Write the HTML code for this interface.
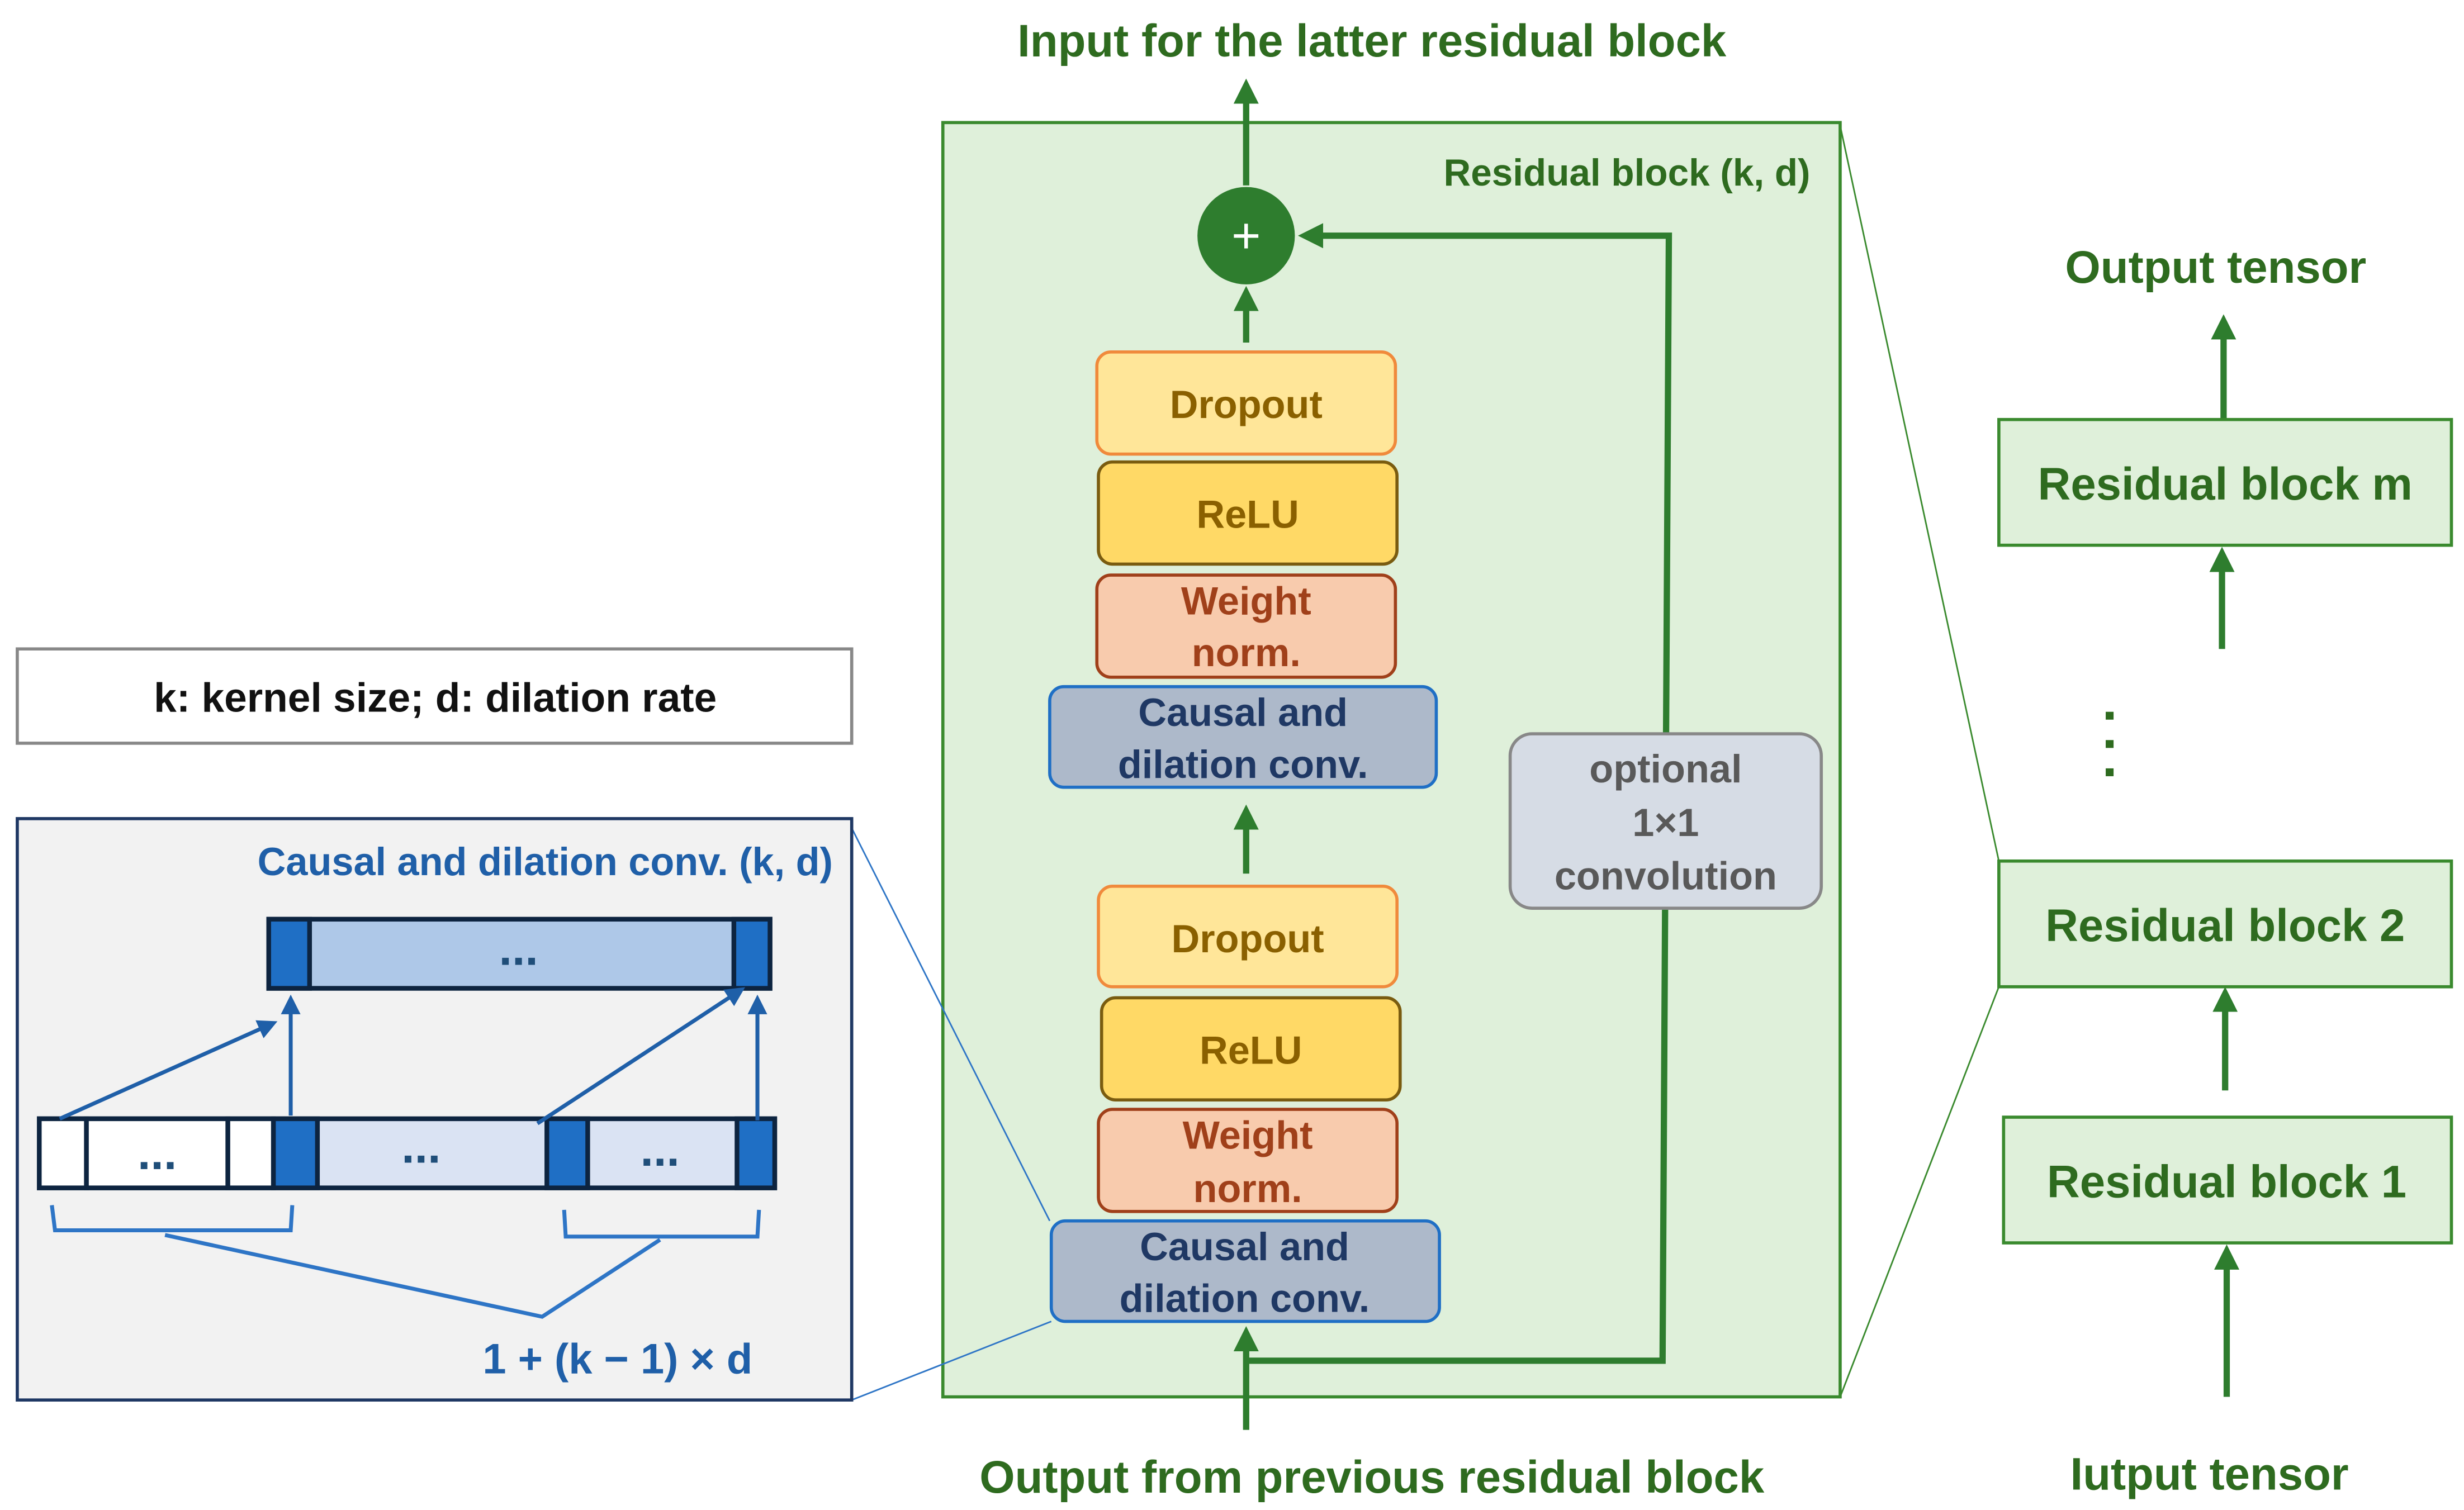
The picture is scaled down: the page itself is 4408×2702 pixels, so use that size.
<!DOCTYPE html>
<html><head><meta charset="utf-8"><style>html,body{margin:0;padding:0;background:#fff}svg{display:block}</style></head>
<body>
<svg width="4408" height="2702" viewBox="0 0 1568 961" preserveAspectRatio="none" xmlns="http://www.w3.org/2000/svg" font-family="Liberation Sans, sans-serif" font-weight="bold">
<defs>
<marker id="ga" markerWidth="4" markerHeight="4" refX="2" refY="2" orient="auto" markerUnits="strokeWidth"><path d="M0,0 L4,2 L0,4 z" fill="#2e7d2e"/></marker>
<marker id="ba" markerWidth="5" markerHeight="5" refX="3" refY="2.5" orient="auto" markerUnits="strokeWidth"><path d="M0,0 L5,2.5 L0,5 z" fill="#1f5fa8"/></marker>
</defs>
<rect width="1568" height="961" fill="#fff"/>
<text x="873" y="36" font-size="29" fill="#2e6b1f" text-anchor="middle">Input for the latter residual block</text>
<text x="873" y="950" font-size="29" fill="#2e6b1f" text-anchor="middle">Output from previous residual block</text>
<rect x="600" y="78" width="571" height="811" fill="#dff0da" stroke="#3a8a2e" stroke-width="2"/>
<text x="1152" y="118" font-size="24" fill="#2e6b1f" text-anchor="end">Residual block (k, d)</text>
<line x1="1171" y1="80" x2="1272" y2="548" stroke="#3a8a2e" stroke-width="1"/>
<line x1="1171" y1="889" x2="1272" y2="628" stroke="#3a8a2e" stroke-width="1"/>
<line x1="542" y1="527" x2="668" y2="777" stroke="#2e75c6" stroke-width="1"/>
<line x1="542" y1="891" x2="669" y2="841" stroke="#2e75c6" stroke-width="1"/>
<g stroke="#2e7d2e" stroke-width="4" fill="none">
<line x1="793" y1="118" x2="793" y2="58" marker-end="url(#ga)"/>
<line x1="793" y1="218" x2="793" y2="190" marker-end="url(#ga)"/>
<line x1="793" y1="556" x2="793" y2="520" marker-end="url(#ga)"/>
<line x1="793" y1="910" x2="793" y2="852" marker-end="url(#ga)"/>
<polyline points="793,866 1058,866 1062,150 834,150" marker-end="url(#ga)"/>
<line x1="1415" y1="267" x2="1415" y2="208" marker-end="url(#ga)"/>
<line x1="1414" y1="413" x2="1414" y2="356" marker-end="url(#ga)"/>
<line x1="1416" y1="694" x2="1416" y2="636" marker-end="url(#ga)"/>
<line x1="1417" y1="889" x2="1417" y2="800" marker-end="url(#ga)"/>
</g>
<circle cx="793" cy="150" r="31" fill="#2e7d2e"/>
<text x="793" y="161" font-size="32" fill="#fff" text-anchor="middle" font-weight="normal">+</text>
<g font-size="25" text-anchor="middle">
<rect x="698" y="224" width="190" height="65" rx="9" fill="#ffe699" stroke="#f08a3c" stroke-width="2"/>
<text x="793" y="266" fill="#8a6000">Dropout</text>
<rect x="699" y="294" width="190" height="65" rx="9" fill="#ffd966" stroke="#7a5c10" stroke-width="2"/>
<text x="794" y="336" fill="#8a6000">ReLU</text>
<rect x="698" y="366" width="190" height="65" rx="9" fill="#f8cbad" stroke="#a0401a" stroke-width="2"/>
<text x="793" y="391" fill="#a0401a">Weight</text><text x="793" y="424" fill="#a0401a">norm.</text>
<rect x="668" y="437" width="246" height="64" rx="9" fill="#adb9ca" stroke="#1f6fc5" stroke-width="2"/>
<text x="791" y="462" fill="#1f3864">Causal and</text><text x="791" y="495" fill="#1f3864">dilation conv.</text>
<rect x="699" y="564" width="190" height="64" rx="9" fill="#ffe699" stroke="#f08a3c" stroke-width="2"/>
<text x="794" y="606" fill="#8a6000">Dropout</text>
<rect x="701" y="635" width="190" height="65" rx="9" fill="#ffd966" stroke="#7a5c10" stroke-width="2"/>
<text x="796" y="677" fill="#8a6000">ReLU</text>
<rect x="699" y="706" width="190" height="65" rx="9" fill="#f8cbad" stroke="#a0401a" stroke-width="2"/>
<text x="794" y="731" fill="#a0401a">Weight</text><text x="794" y="765" fill="#a0401a">norm.</text>
<rect x="669" y="777" width="247" height="64" rx="9" fill="#adb9ca" stroke="#1f6fc5" stroke-width="2"/>
<text x="792" y="802" fill="#1f3864">Causal and</text><text x="792" y="835" fill="#1f3864">dilation conv.</text>
<rect x="961" y="467" width="198" height="111" rx="14" fill="#d6dce5" stroke="#888" stroke-width="2"/>
<text x="1060" y="498" fill="#595959">optional</text>
<text x="1060" y="532" fill="#595959">1×1</text>
<text x="1060" y="566" fill="#595959">convolution</text>
</g>
<g font-size="29" text-anchor="middle" fill="#2e6b1f">
<text x="1410" y="180">Output tensor</text>
<text x="1406" y="948">Iutput tensor</text>
<rect x="1272" y="267" width="288" height="80" fill="#dff0da" stroke="#3a8a2e" stroke-width="2"/>
<text x="1416" y="318">Residual block m</text>
<rect x="1272" y="548" width="288" height="80" fill="#dff0da" stroke="#3a8a2e" stroke-width="2"/>
<text x="1416" y="599">Residual block 2</text>
<rect x="1275" y="711" width="285" height="80" fill="#dff0da" stroke="#3a8a2e" stroke-width="2"/>
<text x="1417" y="762">Residual block 1</text>
</g>
<g fill="#2e6b1f"><rect x="1340" y="453" width="5" height="5"/><rect x="1340" y="471" width="5" height="5"/><rect x="1340" y="489" width="5" height="5"/></g>
<rect x="11" y="413" width="531" height="60" fill="#fff" stroke="#888" stroke-width="2"/>
<text x="277" y="453" font-size="26" text-anchor="middle" fill="#111">k: kernel size; d: dilation rate</text>
<rect x="11" y="521" width="531" height="370" fill="#f2f2f2" stroke="#1f3864" stroke-width="2"/>
<text x="530" y="557" font-size="25" text-anchor="end" fill="#1f5fa8">Causal and dilation conv. (k, d)</text>
<g stroke="#0d2440" stroke-width="3">
<rect x="171" y="585" width="319" height="44" fill="#aec8e8"/>
<rect x="171" y="585" width="26" height="44" fill="#1f6fc5"/>
<rect x="467" y="585" width="23" height="44" fill="#1f6fc5"/>
<rect x="25" y="712" width="468" height="44" fill="#dae3f3"/>
<rect x="25" y="712" width="30" height="44" fill="#fff"/>
<rect x="55" y="712" width="90" height="44" fill="#fff"/>
<rect x="145" y="712" width="29" height="44" fill="#fff"/>
<rect x="174" y="712" width="28" height="44" fill="#1f6fc5"/>
<rect x="348" y="712" width="26" height="44" fill="#1f6fc5"/>
<rect x="469" y="712" width="24" height="44" fill="#1f6fc5"/>
</g>
<g font-size="30" fill="#1f4e79" text-anchor="middle">
<text x="330" y="614">...</text>
<text x="100" y="744">...</text>
<text x="268" y="740">...</text>
<text x="420" y="742">...</text>
</g>
<g stroke="#1f5fa8" stroke-width="2.5" fill="none">
<line x1="38" y1="712" x2="172" y2="652" marker-end="url(#ba)"/>
<line x1="185" y1="710" x2="185" y2="638" marker-end="url(#ba)"/>
<line x1="342" y1="715" x2="470" y2="631" marker-end="url(#ba)"/>
<line x1="482" y1="713" x2="482" y2="638" marker-end="url(#ba)"/>
</g>
<g stroke="#2e75c6" stroke-width="2.5" fill="none">
<polyline points="33,767 35,783 185,783 186,767"/>
<polyline points="359,770 360,787 482,787 483,770"/>
<polyline points="105,786 345,838 420,789"/>
</g>
<text x="393" y="874" font-size="27" text-anchor="middle" fill="#1f5fa8">1 + (k − 1) × d</text>
</svg>
</body></html>
